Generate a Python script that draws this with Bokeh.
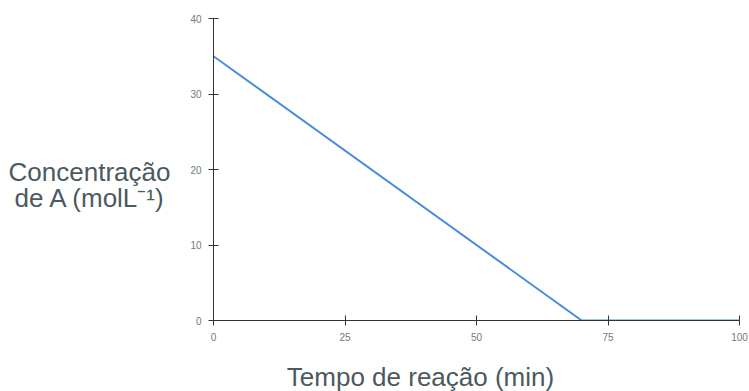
from bokeh.plotting import figure
from bokeh.models import Range1d, FixedTicker
from bokeh.layouts import row, column
from bokeh.core.properties import value
from bokeh.embed import file_html
from bokeh.resources import INLINE

# Data
tempo = [0, 70, 100]
concentracao = [35, 0, 0]
x_ticks = [0, 25, 50, 75, 100]
y_ticks = [0, 10, 20, 30, 40]
y_label_lines = ["Concentração", "de A (molL⁻¹)"]
x_label_text = "Tempo de reação (min)"

TEXT = "#4a5a60"
AXIS = "#333333"
FONT = "Liberation Sans"


def blank(w, h):
    f = figure(width=w, height=h, output_backend="svg", toolbar_location=None,
               x_range=Range1d(0, w), y_range=Range1d(h, 0),
               x_axis_type=None, y_axis_type=None, min_border=0)
    f.outline_line_color = None
    f.xgrid.visible = False
    f.ygrid.visible = False
    return f


# Main chart
p = figure(width=564, height=350, output_backend="svg", toolbar_location=None,
           x_range=Range1d(0, 100), y_range=Range1d(0, 40),
           min_border_left=28, min_border_right=10, min_border_top=18, min_border_bottom=30)
p.outline_line_color = None
p.xgrid.visible = False
p.ygrid.visible = False

for ax, ticks in ((p.xaxis, x_ticks), (p.yaxis, y_ticks)):
    ax.ticker = FixedTicker(ticks=ticks)
    ax.minor_tick_line_color = None
    ax.major_tick_in = 5
    ax.major_tick_out = 5
    ax.axis_line_color = AXIS
    ax.major_tick_line_color = AXIS
    ax.major_label_text_font = FONT
    ax.major_label_text_font_size = "10px"
    ax.major_label_text_color = "#6f7a80"
    ax.major_label_standoff = 7

p.line(tempo, concentracao, line_color="#4a8ddb", line_width=2)

# Y label (horizontal, two lines) to the left
left = blank(185, 350)
left.text(x=[89, 90], y=[178, 208], text=y_label_lines, text_align="center",
          text_baseline="middle", text_font=value(FONT), text_font_size="26px",
          text_color=TEXT)

# X label below
bottom = blank(749, 41)
bottom.text(x=[420], y=[26], text=[x_label_text], text_align="center",
            text_baseline="middle", text_font=value(FONT), text_font_size="26px",
            text_color=TEXT)

layout = column(row(left, p, spacing=0), bottom, spacing=0)

open("out.html", "w").write(file_html(layout, INLINE))
